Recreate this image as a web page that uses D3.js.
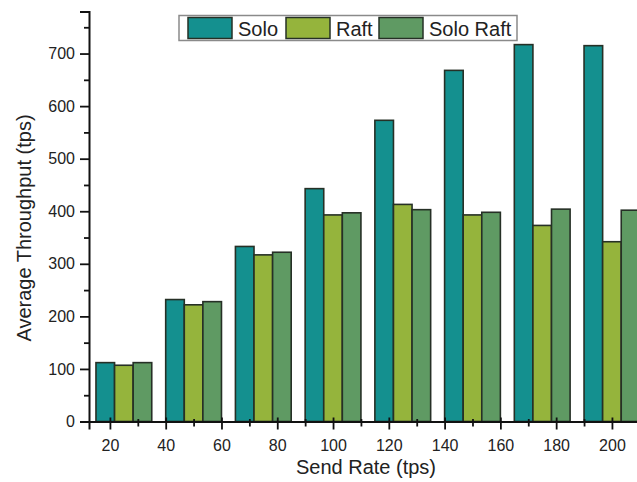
<!DOCTYPE html>
<html>
<head>
<meta charset="utf-8">
<script src="https://cdn.jsdelivr.net/npm/d3@7"></script>
<style>
  html, body { margin: 0; padding: 0; background: #fff; overflow: hidden; }
  svg { display: block; }
  text { font-family: "Liberation Sans", Arial, Helvetica, sans-serif; fill: #222; }
</style>
</head>
<body>
<svg id="chart" width="637" height="482"></svg>
<script>
// ---- data ----
const sendRates = [25, 50, 75, 100, 125, 150, 175, 200];
const seriesNames = ["Solo", "Raft", "Solo Raft"];
const soloValues = [112, 232, 333, 443, 573, 668, 717, 715];
const raftValues = [107, 222, 317, 393, 413, 393, 373, 342];
const soloRaftValues = [112, 228, 322, 397, 403, 398, 404, 402];
const xTickValues = [20, 40, 60, 80, 100, 120, 140, 160, 180, 200];
const xMinorTickValues = [30, 50, 70, 90, 110, 130, 150, 170, 190, 210];
const yTickValues = [0, 100, 200, 300, 400, 500, 600, 700];
const yMinorTickValues = [50, 150, 250, 350, 450, 550, 650, 750];
const seriesColors = ["#14908f", "#95b43c", "#5f9a63"];

const seriesValues = [soloValues, raftValues, soloRaftValues];
const table = sendRates.map((r, i) => ({
  rate: r,
  vals: seriesNames.map((s, k) => ({ name: s, value: seriesValues[k][i] }))
}));

const svg = d3.select("#chart");

const x = d3.scaleLinear().domain([12.5, 212.5]).range([89, 646.8]);
const y = d3.scaleLinear().domain([0, 780]).range([421.5, 11.5]);
const color = d3.scaleOrdinal().domain(seriesNames).range(seriesColors);

const groupWidth = x(12.5 + 25 * 0.8) - x(12.5);
const sub = d3.scaleBand().domain(seriesNames).range([0, groupWidth]).padding(0);

// bars
const groups = svg.append("g").selectAll("g").data(table).join("g")
  .attr("transform", d => `translate(${x(d.rate) - groupWidth / 2},0)`);
groups.selectAll("rect").data(d => d.vals).join("rect")
  .attr("x", d => sub(d.name))
  .attr("y", d => y(d.value))
  .attr("width", sub.bandwidth())
  .attr("height", d => y(0) - y(d.value))
  .attr("fill", d => color(d.name))
  .attr("stroke", "#263026")
  .attr("stroke-width", 1.6);

// x axis
const xAxisG = svg.append("g").attr("transform", `translate(0,${y(0)})`);
xAxisG.call(d3.axisBottom(x).tickValues(xTickValues).tickSize(8).tickPadding(10).tickFormat(d3.format("d")));
xAxisG.append("g").call(d3.axisBottom(x).tickValues(xMinorTickValues).tickSize(5).tickFormat(""));
xAxisG.selectAll(".domain").attr("stroke", "#111").attr("stroke-width", 2);
xAxisG.selectAll(".tick line").attr("stroke", "#111").attr("stroke-width", 1.8);
xAxisG.selectAll(".tick line").each(function () {
  const l = d3.select(this);
  const len = +l.attr("y2");
  l.attr("y1", -len * 0.5);
});
xAxisG.selectAll("g.tick text").attr("font-size", 16).attr("fill", "#222")
  .style("font-family", '"Liberation Sans", Arial, sans-serif');
xAxisG.selectAll(".domain").filter(function(){ return this.parentNode !== xAxisG.node(); }).remove();

// y axis
const yAxisG = svg.append("g").attr("transform", `translate(${x(12.5)},0)`);
yAxisG.call(d3.axisLeft(y).tickValues(yTickValues).tickSize(9).tickPadding(5).tickFormat(d3.format("d")));
yAxisG.append("g").call(d3.axisLeft(y).tickValues(yMinorTickValues).tickSize(5).tickFormat(""));
yAxisG.selectAll(".domain").attr("stroke", "#111").attr("stroke-width", 2);
yAxisG.selectAll(".tick line").attr("stroke", "#111").attr("stroke-width", 1.8);
yAxisG.selectAll("g.tick text").attr("font-size", 16).attr("fill", "#222")
  .style("font-family", '"Liberation Sans", Arial, sans-serif');
yAxisG.selectAll(".domain").filter(function(){ return this.parentNode !== yAxisG.node(); }).remove();

// axis titles
svg.append("text")
  .attr("x", 366).attr("y", 474)
  .attr("text-anchor", "middle").attr("font-size", 20)
  .text("Send Rate (tps)");
svg.append("text")
  .attr("transform", "translate(31,228) rotate(-90)")
  .attr("text-anchor", "middle").attr("font-size", 20)
  .text("Average Throughput (tps)");

// legend
const legend = svg.append("g");
legend.append("rect")
  .attr("x", 179).attr("y", 15.5).attr("width", 338).attr("height", 25)
  .attr("fill", "#fff").attr("stroke", "#8a8a8a").attr("stroke-width", 1.5);
const legendX = [188, 286, 379];
const items = legend.selectAll("g.item").data(seriesNames).join("g").attr("class", "item")
  .attr("transform", (d, i) => `translate(${legendX[i]},0)`);
items.append("rect")
  .attr("x", 0).attr("y", 17.5).attr("width", 44).attr("height", 21)
  .attr("fill", d => color(d)).attr("stroke", "#263026").attr("stroke-width", 1.5);
items.append("text")
  .attr("x", 50).attr("y", 35.5).attr("font-size", 20)
  .text(d => d);
</script>
</body>
</html>
